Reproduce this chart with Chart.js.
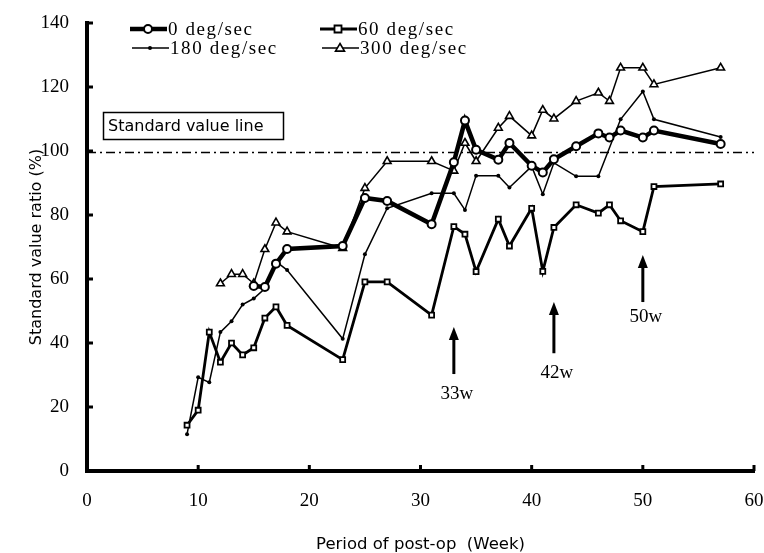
<!DOCTYPE html>
<html>
<head>
<meta charset="utf-8">
<script src="https://cdn.jsdelivr.net/npm/chart.js@4.4.1/dist/chart.umd.min.js"></script>
<style>
  body { margin: 0; background: #fff; }
  #wrap { width: 764px; height: 553px; }
</style>
</head>
<body>
<div id="wrap"><canvas id="ratioChart"></canvas></div>
<script>
// Data (week, % of standard value)
const weeks0 = [15, 16, 17, 18, 23, 25, 27, 31, 33, 34, 35, 37, 38, 40, 41, 42, 44, 46, 47, 48, 50, 51, 57];
const deg0 = [57.8, 57.5, 64.8, 69.4, 70.3, 85.3, 84.4, 77.1, 96.5, 109.5, 100.4, 97.3, 102.5, 95.4, 93.3, 97.4, 101.5, 105.5, 104.2, 106.4, 104.2, 106.4, 102.2];

const weeks60 = [9, 10, 11, 12, 13, 14, 15, 16, 17, 18, 23, 25, 27, 31, 33, 34, 35, 37, 38, 40, 41, 42, 44, 46, 47, 48, 50, 51, 57];
const deg60 = [14.3, 19.0, 43.4, 34.0, 40.0, 36.3, 38.5, 47.8, 51.3, 45.5, 34.8, 59.1, 59.1, 48.7, 76.4, 74.0, 62.3, 78.7, 70.3, 82.1, 62.4, 76.1, 83.2, 80.6, 83.2, 78.2, 74.8, 88.9, 89.7];

const weeks180 = [9, 10, 11, 12, 13, 14, 15, 16, 17, 18, 23, 25, 27, 31, 33, 34, 35, 37, 38, 40, 41, 42, 44, 46, 48, 50, 51, 57];
const deg180 = [11.5, 29.3, 27.7, 43.4, 46.8, 52.0, 53.9, 57.0, 65.5, 62.8, 41.3, 67.7, 82.1, 86.8, 86.8, 81.6, 92.3, 92.3, 88.6, 95.2, 86.5, 96.3, 92.1, 92.1, 109.9, 118.6, 109.9, 104.4];

const weeks300 = [12, 13, 14, 15, 16, 17, 18, 23, 25, 27, 31, 33, 34, 35, 37, 38, 40, 41, 42, 44, 46, 47, 48, 50, 51, 57];
const deg300 = [58.6, 61.5, 61.5, 58.6, 69.3, 77.6, 74.8, 69.6, 88.4, 96.8, 96.8, 93.8, 102.5, 96.8, 107.2, 110.9, 104.8, 112.8, 110.1, 115.6, 118.2, 115.6, 126, 126, 120.8, 126];

const standardValue = 99.5;
const xTicks = [0, 10, 20, 30, 40, 50, 60];
const yTicks = [0, 20, 40, 60, 80, 100, 120, 140];

// arrow annotations: week, arrow tip, arrow base, label height
const arrowWeeks = [33, 42, 50];
const arrowTips = [45, 52.8, 67.5];
const arrowBases = [30.3, 36.8, 52.8];
const arrowLabelY = [24, 30.5, 48];
const arrowLabels = ["33w", "42w", "50w"];

const serif = "'Liberation Serif', 'DejaVu Serif', serif";
const sans = "'DejaVu Sans', 'Liberation Sans', sans-serif";

function toPoints(xs, ys) {
  return xs.map((x, i) => ({ x: x, y: ys[i] }));
}

const datasets = [
  {
    label: "0 deg/sec",
    data: toPoints(weeks0, deg0),
    borderColor: "#000", borderWidth: 4.5,
    pointStyle: "circle", pointRadius: 4, pointBorderWidth: 2,
    pointBackgroundColor: "#fff", pointBorderColor: "#000"
  },
  {
    label: "60 deg/sec",
    data: toPoints(weeks60, deg60),
    borderColor: "#000", borderWidth: 2.8,
    pointStyle: "rect", pointRadius: 3.5, pointBorderWidth: 1.8,
    pointBackgroundColor: "#fff", pointBorderColor: "#000"
  },
  {
    label: "180 deg/sec",
    data: toPoints(weeks180, deg180),
    borderColor: "#000", borderWidth: 1.5,
    pointStyle: "circle", pointRadius: 2, pointBorderWidth: 0,
    pointBackgroundColor: "#000", pointBorderColor: "#000"
  },
  {
    label: "300 deg/sec",
    data: toPoints(weeks300, deg300),
    borderColor: "#000", borderWidth: 1.5,
    pointStyle: "triangle", pointRadius: 4.5, pointBorderWidth: 1.6,
    pointBackgroundColor: "#fff", pointBorderColor: "#000"
  },
  {
    label: "Standard value line",
    data: [{ x: 0, y: standardValue }, { x: 60, y: standardValue }],
    borderColor: "#000", borderWidth: 1.5,
    borderDash: [9, 4, 2, 4],
    pointRadius: 0
  }
];

// inward tick marks, legend, box label and arrows
const decorations = {
  id: "decorations",
  afterDraw(chart) {
    const c = chart.ctx;
    const xs = chart.scales.x, ys = chart.scales.y;
    const area = chart.chartArea;
    c.save();
    c.strokeStyle = "#000";
    c.fillStyle = "#000";

    // tick marks pointing into the plot
    c.lineWidth = 3;
    yTicks.forEach(v => {
      const py = ys.getPixelForValue(v);
      c.beginPath(); c.moveTo(area.left, py); c.lineTo(area.left + 6, py); c.stroke();
    });
    xTicks.forEach(v => {
      const px = xs.getPixelForValue(v);
      c.beginPath(); c.moveTo(px, area.bottom); c.lineTo(px, area.bottom - 6); c.stroke();
    });

    // legend
    const rows = [[0, 130, 29], [1, 320, 29], [2, 132, 48], [3, 322, 48]];
    c.font = "19px " + serif;
    c.textBaseline = "middle";
    c.textAlign = "left";
    rows.forEach(([i, lx, ly]) => {
      const ds = datasets[i];
      const r = ds.pointRadius;
      c.lineWidth = ds.borderWidth;
      c.beginPath(); c.moveTo(lx, ly); c.lineTo(lx + 37, ly); c.stroke();
      c.fillStyle = ds.pointBackgroundColor;
      c.lineWidth = ds.pointBorderWidth;
      c.beginPath();
      if (ds.pointStyle === "circle") c.arc(lx + 18, ly, r, 0, Math.PI * 2);
      if (ds.pointStyle === "rect") c.rect(lx + 18 - r, ly - r, r * 2, r * 2);
      if (ds.pointStyle === "triangle") {
        c.moveTo(lx + 18, ly - r); c.lineTo(lx + 18 + r, ly + r * 0.7); c.lineTo(lx + 18 - r, ly + r * 0.7); c.closePath();
      }
      c.fill();
      if (ds.pointBorderWidth > 0) c.stroke();
      c.fillStyle = "#000";
      c.letterSpacing = "1.6px";
      c.fillText(ds.label, lx + 38, ly + 1);
      c.letterSpacing = "0px";
    });

    // "Standard value line" box
    c.lineWidth = 1.5;
    c.strokeRect(103.5, 112.5, 180, 27);
    c.font = "16px " + sans;
    c.fillText("Standard value line", 108, 126.5);

    // arrows
    c.lineWidth = 3;
    c.font = "19px " + serif;
    c.textAlign = "center";
    arrowWeeks.forEach((w, i) => {
      const px = xs.getPixelForValue(w);
      const tip = ys.getPixelForValue(arrowTips[i]);
      const base = ys.getPixelForValue(arrowBases[i]);
      c.beginPath(); c.moveTo(px, base); c.lineTo(px, tip + 10); c.stroke();
      c.beginPath(); c.moveTo(px, tip); c.lineTo(px + 5, tip + 13); c.lineTo(px - 5, tip + 13); c.closePath(); c.fill();
      c.fillText(arrowLabels[i], px + 3, ys.getPixelForValue(arrowLabelY[i]));
    });
    c.restore();
  }
};

new Chart(document.getElementById("ratioChart"), {
  type: "line",
  data: { datasets: datasets },
  options: {
    responsive: true,
    maintainAspectRatio: false,
    animation: false,
    layout: { padding: { left: 27, right: 10, top: 23, bottom: 0 } },
    plugins: { legend: { display: false }, tooltip: { enabled: false } },
    scales: {
      x: {
        type: "linear", min: 0, max: 60,
        afterFit(scale) { scale.height = 82; scale.paddingLeft = 0; scale.paddingRight = 0; },
        afterBuildTicks(scale) { scale.ticks = xTicks.map(v => ({ value: v })); },
        grid: { display: false, drawTicks: false },
        border: { display: true, width: 4, color: "#000" },
        ticks: { color: "#000", font: { family: serif, size: 19 }, padding: 19, maxRotation: 0 },
        title: { display: true, text: "Period of post-op  (Week)", color: "#000", font: { family: sans, size: 16.5, lineHeight: 1 }, padding: { top: 0, bottom: 0 } }
      },
      y: {
        type: "linear", min: 0, max: 140,
        afterFit(scale) { scale.width = 60; scale.paddingTop = 0; scale.paddingBottom = 0; },
        afterBuildTicks(scale) { scale.ticks = yTicks.map(v => ({ value: v })); },
        grid: { display: false, drawTicks: false },
        border: { display: true, width: 4, color: "#000" },
        ticks: { color: "#000", font: { family: serif, size: 19 }, padding: 18 },
        title: { display: true, text: "Standard value ratio (%)", color: "#000", font: { family: sans, size: 16 }, padding: { top: 0, bottom: 0 } }
      }
    }
  },
  plugins: [decorations]
});
</script>
</body>
</html>
